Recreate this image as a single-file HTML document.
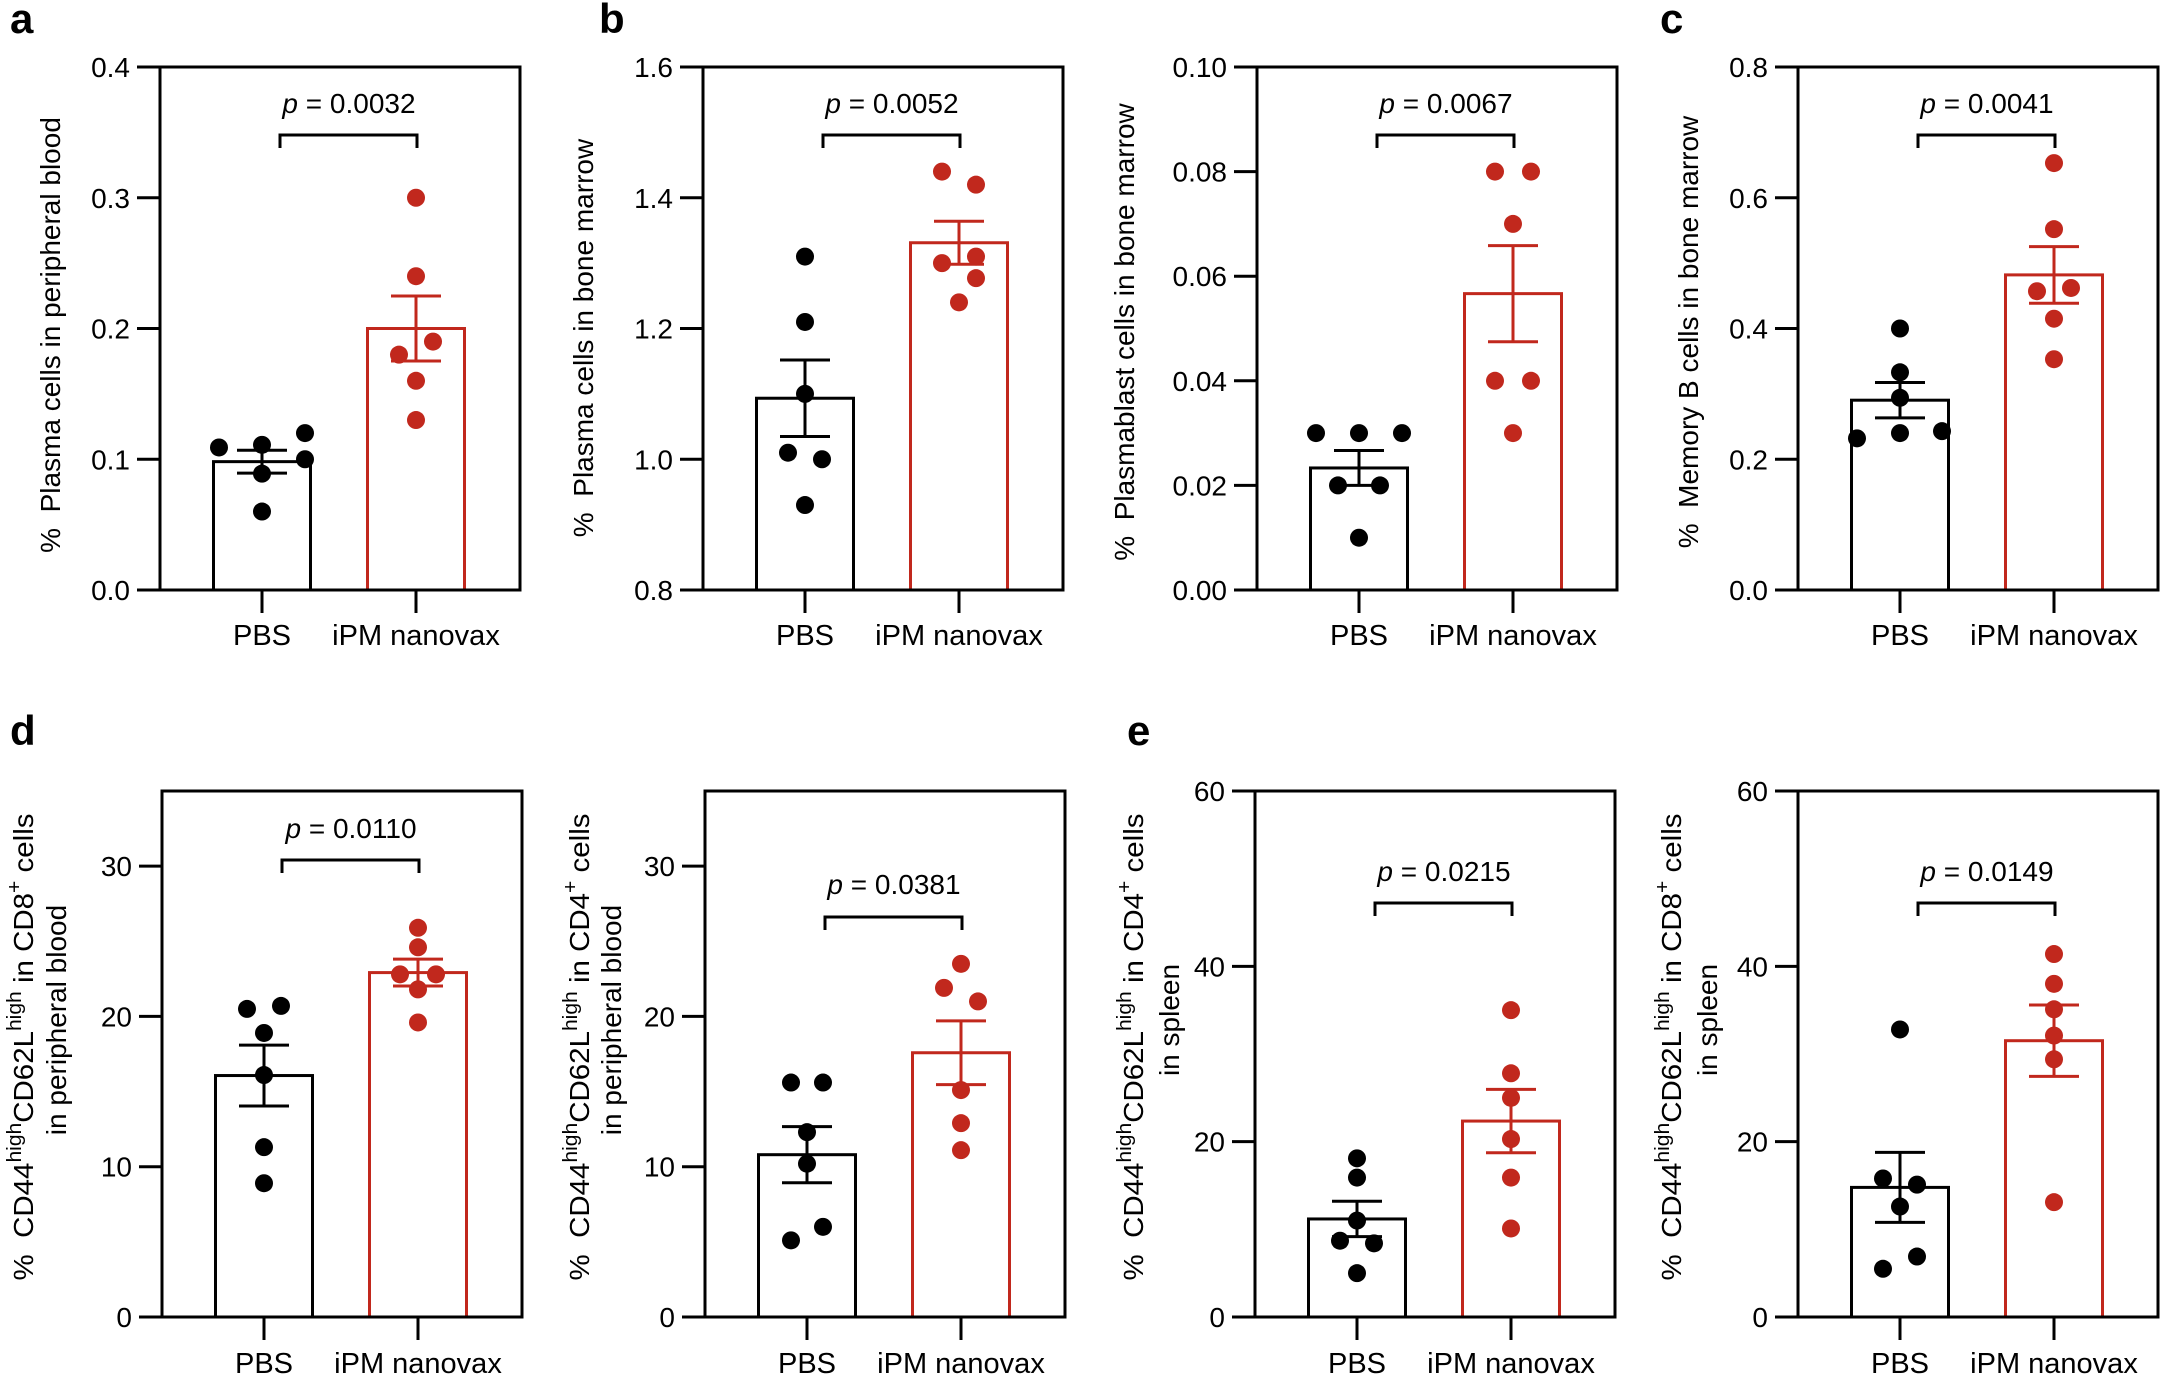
<!DOCTYPE html>
<html><head><meta charset="utf-8"><style>
html,body{margin:0;padding:0;background:#fff;}
svg{display:block;font-family:"Liberation Sans",Arial,sans-serif;}
</style></head><body>
<svg id="fig" width="2162" height="1379" viewBox="0 0 2162 1379" xmlns="http://www.w3.org/2000/svg">
<g font-weight="bold" font-size="42">
<text x="10" y="33">a</text>
<text x="599" y="33">b</text>
<text x="1660" y="33">c</text>
<text x="10" y="745">d</text>
<text x="1127" y="745">e</text>
</g>
</svg>
<script>
// ---- data ----
const categories = ["PBS", "iPM nanovax"];
const aPBS = [0.109, 0.111, 0.12, 0.10, 0.089, 0.06];
const aIPM = [0.30, 0.24, 0.19, 0.18, 0.16, 0.13];
const aTicks = [0, 0.1, 0.2, 0.3, 0.4];
const bPBS = [1.31, 1.21, 1.10, 1.01, 1.00, 0.93];
const bIPM = [1.44, 1.42, 1.30, 1.31, 1.277, 1.24];
const bTicks = [0.8, 1.0, 1.2, 1.4, 1.6];
const b2PBS = [0.03, 0.03, 0.03, 0.02, 0.02, 0.01];
const b2IPM = [0.08, 0.08, 0.07, 0.04, 0.04, 0.03];
const b2Ticks = [0, 0.02, 0.04, 0.06, 0.08, 0.10];
const cPBS = [0.40, 0.333, 0.294, 0.232, 0.240, 0.243];
const cIPM = [0.653, 0.552, 0.457, 0.462, 0.415, 0.353];
const cTicks = [0, 0.2, 0.4, 0.6, 0.8];
const d1PBS = [20.5, 20.7, 18.9, 16.1, 11.3, 8.9];
const d1IPM = [25.9, 24.6, 22.8, 22.8, 21.8, 19.6];
const d2PBS = [15.6, 15.6, 12.3, 10.2, 6.0, 5.1];
const d2IPM = [23.5, 21.9, 21.0, 15.1, 12.9, 11.1];
const dTicks = [0, 10, 20, 30];
const e1PBS = [18.1, 15.9, 11.0, 8.7, 8.4, 5.0];
const e1IPM = [35.0, 27.8, 25.0, 20.3, 15.9, 10.1];
const e2PBS = [32.8, 15.8, 15.1, 12.6, 6.9, 5.5];
const e2IPM = [41.4, 38.0, 35.1, 32.1, 29.4, 13.1];
const eTicks = [0, 20, 40, 60];
const pValues = ["0.0032", "0.0052", "0.0067", "0.0041", "0.0110", "0.0381", "0.0215", "0.0149"];

// ---- layout / style (not data) ----
const RED = "#c1281d";
const NS = "http://www.w3.org/2000/svg";
const SP = "\u00a0\u00a0";
const svg = document.getElementById("fig");
function el(tag, attrs, parent) {
  const e = document.createElementNS(NS, tag);
  for (const k in attrs) e.setAttribute(k, attrs[k]);
  (parent || svg).appendChild(e);
  return e;
}
const panels = [
  {id:"a", left:160, top:67, bottom:590, min:0, max:0.4, ticks:aTicks, dec:1, pbs:aPBS, ipm:aIPM, jp:[-43,0,43,43,0,0], ji:[0,0,17,-17,0,0], p:pValues[0], py:113, by:135, label:["%"+SP+"Plasma cells in peripheral blood"], lx:[-100], ly:[335], row:0},
  {id:"b1", left:703, top:67, bottom:590, min:0.8, max:1.6, ticks:bTicks, dec:1, pbs:bPBS, ipm:bIPM, jp:[0,0,0,-17,17,0], ji:[-17,17,-17,17,17,0], p:pValues[1], py:113, by:135, label:["%"+SP+"Plasma cells in bone marrow"], lx:[-110], ly:[338], row:0},
  {id:"b2", left:1257, top:67, bottom:590, min:0, max:0.10, ticks:b2Ticks, dec:2, pbs:b2PBS, ipm:b2IPM, jp:[-43,0,43,-21,21,0], ji:[-18,18,0,-18,18,0], p:pValues[2], py:113, by:135, label:["%"+SP+"Plasmablast cells in bone marrow"], lx:[-123], ly:[332], row:0},
  {id:"c", left:1798, top:67, bottom:590, min:0, max:0.8, ticks:cTicks, dec:1, pbs:cPBS, ipm:cIPM, jp:[0,0,0,-43,0,42], ji:[0,0,-17,17,0,0], p:pValues[3], py:113, by:135, label:["%"+SP+"Memory B cells in bone marrow"], lx:[-100], ly:[332], row:0},
  {id:"d1", left:162, top:791, bottom:1317, min:0, max:35, ticks:dTicks, dec:0, pbs:d1PBS, ipm:d1IPM, jp:[-17,17,0,0,0,0], ji:[0,0,-18,18,0,0], p:pValues[4], py:838, by:860, cd:"8", second:"in peripheral blood", lx:[-129,-96], row:1},
  {id:"d2", left:705, top:791, bottom:1317, min:0, max:35, ticks:dTicks, dec:0, pbs:d2PBS, ipm:d2IPM, jp:[-16,16,0,0,16,-16], ji:[0,-17,17,0,0,0], p:pValues[5], py:894, by:917, cd:"4", second:"in peripheral blood", lx:[-116,-84], row:1},
  {id:"e1", left:1255, top:791, bottom:1317, min:0, max:60, ticks:eTicks, dec:0, pbs:e1PBS, ipm:e1IPM, jp:[0,0,0,-17,17,0], ji:[0,0,0,0,0,0], p:pValues[6], py:881, by:903, cd:"4", second:"in spleen", lx:[-112,-76], row:1},
  {id:"e2", left:1798, top:791, bottom:1317, min:0, max:60, ticks:eTicks, dec:0, pbs:e2PBS, ipm:e2IPM, jp:[0,-17,17,0,17,-17], ji:[0,0,0,0,0,0], p:pValues[7], py:881, by:903, cd:"8", second:"in spleen", lx:[-117,-81], row:1}
];
function mean(a){return a.reduce((s,v)=>s+v,0)/a.length;}
function sem(a){const m=mean(a);const v=a.reduce((s,x)=>s+(x-m)*(x-m),0)/(a.length-1);return Math.sqrt(v/a.length);}

panels.forEach(P => {
  const W = 360;
  const g = el("g", {});
  
  
  const y = v => P.bottom - (v - P.min) / (P.max - P.min) * (P.bottom - P.top);
  const cx = [P.left + 102, P.left + 256];
  const groups = [P.pbs, P.ipm];
  groups.forEach((vals, gi) => {
    const col = gi === 0 ? "#000" : RED;
    const m = mean(vals), s = sem(vals);
    const bar = el("rect", {x: cx[gi]-48.5, y: y(m), width: 97, height: P.bottom - y(m), fill: "none", stroke: col, "stroke-width": 3}, g);
    
    
    const eb = el("g", {stroke: col, "stroke-width": 3}, g);
    
    
    el("line", {x1: cx[gi], x2: cx[gi], y1: y(m+s), y2: y(m-s)}, eb);
    el("line", {x1: cx[gi]-25, x2: cx[gi]+25, y1: y(m+s), y2: y(m+s)}, eb);
    el("line", {x1: cx[gi]-25, x2: cx[gi]+25, y1: y(m-s), y2: y(m-s)}, eb);
    const jit = gi === 0 ? P.jp : P.ji;
    vals.forEach((v, i) => {
      const d = el("circle", {cx: cx[gi] + jit[i], cy: y(v), r: 9, fill: col}, g);
      
      
    });
  });
  const fr = el("rect", {x: P.left, y: P.top, width: W, height: P.bottom - P.top, fill: "none", stroke: "#000", "stroke-width": 3}, g);
  
  
  const ya = el("g", {}, g);
  
  
  P.ticks.forEach(t => {
    el("line", {x1: P.left-23, x2: P.left, y1: y(t), y2: y(t), stroke: "#000", "stroke-width": 3}, ya);
    const tl = el("text", {x: P.left-30, y: y(t)+10, "text-anchor": "end", "font-size": 28}, ya);
    
    
    tl.textContent = t.toFixed(P.dec);
  });
  const xa = el("g", {}, g);
  
  
  categories.forEach((c, i) => {
    el("line", {x1: cx[i], x2: cx[i], y1: P.bottom, y2: P.bottom+23, stroke: "#000", "stroke-width": 3}, xa);
    const cl = el("text", {x: cx[i], y: P.bottom + (P.row===0?55:56), "text-anchor": "middle", "font-size": 29}, xa);
    
    
    cl.textContent = c;
  });
  const br = el("path", {d: `M${cx[0]+18},${P.by+13} V${P.by} H${cx[1]+1} V${P.by+13}`, fill: "none", stroke: "#000", "stroke-width": 3}, g);
  
  
  const pt = el("text", {x: (cx[0]+cx[1])/2 + 10, y: P.py, "text-anchor": "middle", "font-size": 28}, g);
  
  
  const pi = el("tspan", {"font-style": "italic"}, pt); pi.textContent = "p";
  const pr = el("tspan", {}, pt); pr.textContent = " = " + P.p;
  if (P.label) {
    const x0 = P.left + P.lx[0], y0 = P.ly[0];
    const yt = el("text", {x: x0, y: y0, transform: `rotate(-90 ${x0} ${y0})`, "text-anchor": "middle", "font-size": 28}, g);
    
    
    yt.textContent = P.label[0];
  } else {
    const x0 = P.left + P.lx[0], y0 = 1047;
    const yt = el("text", {x: x0, y: y0, transform: `rotate(-90 ${x0} ${y0})`, "text-anchor": "middle", "font-size": 28, textLength: 467, lengthAdjust: "spacingAndGlyphs"}, g);
    
    
    const parts = [["%"+SP+"CD44",0],["high",1],["CD62L",0],["high",1],["\u00a0in CD"+P.cd,0],["+",1],["\u00a0cells",0]];
    let prevSup = false;
    parts.forEach(([s, sup]) => {
      const ts = el("tspan", {"font-size": sup ? 20 : 28, dy: sup ? -12 : (prevSup ? 12 : 0)}, yt);
      ts.textContent = s;
      prevSup = !!sup;
    });
    const x1 = P.left + P.lx[1], y1 = 1020;
    const y2t = el("text", {x: x1, y: y1, transform: `rotate(-90 ${x1} ${y1})`, "text-anchor": "middle", "font-size": 28}, g);
    
    
    y2t.textContent = P.second;
  }
});
</script>
</body></html>
